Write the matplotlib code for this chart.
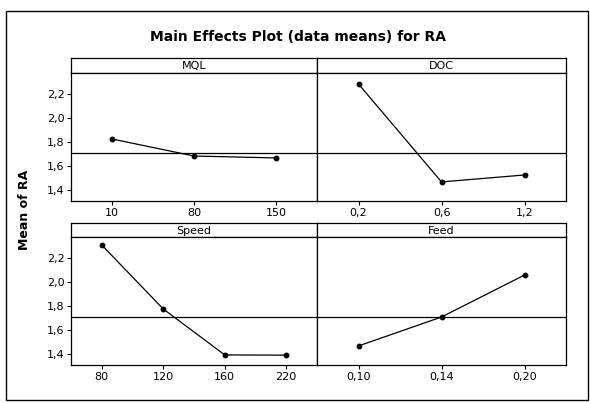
import matplotlib
matplotlib.use("Agg")
import matplotlib.pyplot as plt
from matplotlib.patches import Rectangle

# data (means of RA per factor level)
mql_levels = ["10", "80", "150"]
mql_means = [1.825, 1.683, 1.667]
doc_levels = ["0,2", "0,6", "1,2"]
doc_means = [2.283, 1.467, 1.525]
speed_levels = ["80", "120", "160", "220"]
speed_means = [2.308, 1.775, 1.392, 1.390]
feed_levels = ["0,10", "0,14", "0,20"]
feed_means = [1.467, 1.708, 2.058]
grand_mean = 1.708

y_ticks = [1.4, 1.6, 1.8, 2.0, 2.2]
y_ticklabels = ["1,4", "1,6", "1,8", "2,0", "2,2"]
y_lim = (1.308, 2.375)

W, H = 590, 403
fig = plt.figure(figsize=(W / 100, H / 100), dpi=100)
fig.patch.set_facecolor("white")

def fx(px):
    return px / W

def fy(px):
    return 1 - px / H

# outer frame
fig.add_artist(Rectangle((fx(6), fy(400)), fx(582), (400 - 11) / H,
                         transform=fig.transFigure, fill=False, lw=1.0, color="black"))

fig.text(fx(298), fy(37), "Main Effects Plot (data means) for RA",
         ha="center", va="center", fontsize=10, fontweight="bold")
fig.text(fx(25), fy(210), "Mean of RA", rotation=90, ha="center", va="center",
         fontsize=9, fontweight="bold")

panels = [
    ("MQL", mql_levels, mql_means, 71, 317, 58, 73, 201, True),
    ("DOC", doc_levels, doc_means, 317, 566, 58, 73, 201, False),
    ("Speed", speed_levels, speed_means, 71, 317, 223, 237, 365, True),
    ("Feed", feed_levels, feed_means, 317, 566, 223, 237, 365, False),
]

for name, levels, means, x0, x1, s0, s1, b, left in panels:
    # strip header
    sax = fig.add_axes([fx(x0), fy(s1), fx(x1 - x0), (s1 - s0) / H])
    sax.set_xticks([])
    sax.set_yticks([])
    for sp in sax.spines.values():
        sp.set_linewidth(0.9)
    sax.text(0.5, 0.45, name, ha="center", va="center", fontsize=8,
             transform=sax.transAxes)

    ax = fig.add_axes([fx(x0), fy(b), fx(x1 - x0), (b - s1) / H])
    xs = list(range(len(levels)))
    ax.plot(xs, means, color="black", lw=0.9, marker="o", ms=3.2)
    ax.axhline(grand_mean, color="black", lw=0.9)
    ax.set_xlim(-0.5, len(levels) - 0.5)
    ax.set_ylim(*y_lim)
    ax.set_xticks(xs)
    ax.set_xticklabels(levels, fontsize=8)
    ax.tick_params(axis="x", length=3, width=0.8, pad=2)
    if left:
        ax.set_yticks(y_ticks)
        ax.set_yticklabels(y_ticklabels, fontsize=8)
        ax.tick_params(axis="y", length=3, width=0.8, pad=1.5)
    else:
        ax.set_yticks([])
    for sp in ax.spines.values():
        sp.set_linewidth(0.9)

fig.savefig("out.png", dpi=100, facecolor="white")
